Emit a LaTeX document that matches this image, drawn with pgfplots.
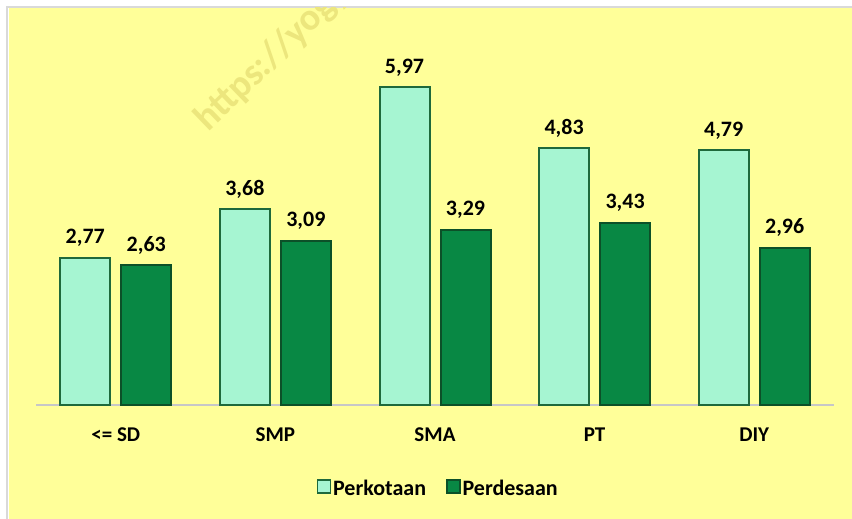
\documentclass[border=0pt]{standalone}
\usepackage{fontspec}
\setmainfont{Carlito}
\usepackage{pgfplots}
\pgfplotsset{compat=1.18}

\definecolor{bg}{RGB}{255,255,153}
\definecolor{wm}{RGB}{236,230,125}
\definecolor{kotafill}{RGB}{166,245,210}
\definecolor{kotaedge}{RGB}{30,105,60}
\definecolor{desafill}{RGB}{8,136,68}
\definecolor{desaedge}{RGB}{12,80,40}

\begin{document}
\begin{tikzpicture}
\fill[white] (0pt,0pt) rectangle (852pt,519pt);
\fill[bg] (9pt,0pt) rectangle (852pt,511pt);
\draw[black!15, line width=2pt] (7pt,0pt) -- (7pt,512pt) -- (852pt,512pt);
% watermark
\begin{scope}
  \clip (9pt,0pt) rectangle (852pt,511pt);
  \node[rotate=44, text=wm, anchor=base west, inner sep=0pt,
        font=\fontsize{38}{38}\selectfont\bfseries] at (208pt,386pt) {https://yogya};
\end{scope}

\begin{axis}[
  at={(36pt,114pt)}, anchor=south west,
  scale only axis,
  width=798pt, height=372.4pt,
  xmin=-0.5, xmax=4.5,
  ymin=0, ymax=7,
  ybar=11pt, bar width=50pt,
  axis y line=none,
  axis x line=bottom,
  axis line style={draw=black!22, line width=1.8pt, -},
  xtick={0,1,2,3,4},
  xticklabels={{<= SD},SMP,SMA,PT,DIY},
  major tick length=0pt,
  xticklabel style={anchor=base, yshift=-37pt, font=\fontsize{21}{24}\selectfont\bfseries},
  clip=false,
  /pgf/number format/assume math mode=true,
  nodes near coords={\pgfmathprintnumber[use comma,fixed,fixed zerofill,precision=2]{\pgfplotspointmeta}},
  every node near coord/.append style={anchor=base, yshift=14pt, text=black,
      font=\fontsize{22}{26}\selectfont\bfseries},
  legend style={at={(0.504,-0.223)}, anchor=center, draw=none, fill=none,
      legend columns=2, font=\fontsize{22}{26}\selectfont\bfseries,
      /tikz/every even column/.append style={column sep=18pt}},
  legend image code/.code={\draw[#1, line width=1.5pt] (0pt,-5pt) rectangle (13pt,8pt);},
]
\addplot[fill=kotafill, draw=kotaedge, line width=2pt]
  coordinates {(0,2.77) (1,3.68) (2,5.97) (3,4.83) (4,4.79)};
\addplot[fill=desafill, draw=desaedge, line width=2pt]
  coordinates {(0,2.63) (1,3.09) (2,3.29) (3,3.43) (4,2.96)};
\legend{Perkotaan,Perdesaan}
\end{axis}
\pgfresetboundingbox
\useasboundingbox (0pt,0pt) rectangle (852pt,519pt);
\end{tikzpicture}
\end{document}
